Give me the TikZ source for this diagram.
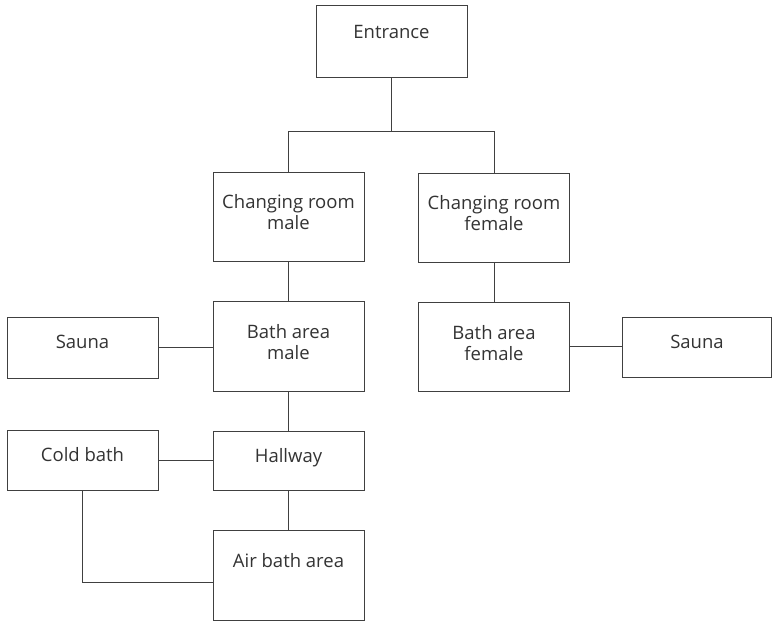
\documentclass[tikz,border=0pt]{standalone}
\usepackage{fontspec}
\setmainfont{Open Sans}
\usetikzlibrary{positioning, calc}

\begin{document}
\begin{tikzpicture}[
    x=1pt, y=-1pt,
    line width=0.9pt,
    room/.style={
        rectangle,
        draw=black!75,
        fill=white,
        minimum width=151pt,
        minimum height=60pt,
        inner sep=0pt
    },
    tall/.style={
        room,
        minimum height=90pt
    },
    roomtext/.style={
        inner sep=0pt,
        align=center,
        text=black!80,
        font=\fontsize{18.5}{21.5}\selectfont
    },
    link/.style={
        draw=black!75,
        line width=0.9pt
    }
]

    \useasboundingbox (0,0) rectangle (772,621);

    % Entrance
    \node[room, minimum height=72pt] (entrance) at (391.5,41) {};
    \node[roomtext, below=20pt of entrance.north] (entrance-txt) {Entrance};

    % Changing rooms
    \node[tall, minimum height=89pt] (chgmale) at (288.5,216.5) {};
    \node[roomtext, below=22pt of chgmale.north] (chgmale-txt) {Changing room\\male};

    \node[tall, minimum height=89pt] (chgfemale) at (494,217.5) {};
    \node[roomtext, below=22pt of chgfemale.north] (chgfemale-txt) {Changing room\\female};

    % Bath areas
    \node[tall] (bathmale) at (288.5,346) {};
    \node[roomtext, below=23pt of bathmale.north] (bathmale-txt) {Bath area\\male};

    \node[tall, minimum height=89pt] (bathfemale) at (494,346.5) {};
    \node[roomtext, below=23pt of bathfemale.north] (bathfemale-txt) {Bath area\\female};

    % Saunas
    \node[room, minimum height=61pt] (saunal) at (82.5,347.5) {};
    \node[roomtext, below=18pt of saunal.north] (saunal-txt) {Sauna};

    \node[room, minimum width=149pt] (saunar) at (697,347) {};
    \node[roomtext, below=18pt of saunar.north] (saunar-txt) {Sauna};

    % Hallway, cold bath, air bath
    \node[room] (coldbath) at (82.5,460) {};
    \node[roomtext, below=17pt of coldbath.north] (coldbath-txt) {Cold bath};

    \node[room, minimum height=59pt] (hallway) at (288.5,460.5) {};
    \node[roomtext, below=17pt of hallway.north] (hallway-txt) {Hallway};

    \node[tall] (airbath) at (288.5,575) {};
    \node[roomtext, below=23pt of airbath.north] (airbath-txt) {Air bath area};

    % Connections
    \coordinate (fork) at ($(entrance.south)+(0,54)$);
    \draw[link] (entrance) -- (fork);
    \draw[link] (chgmale.north) |- (fork) -| (chgfemale.north);

    \draw[link] (chgmale) -- (bathmale);
    \draw[link] (chgfemale) -- (bathfemale);

    \draw[link] (saunal.east) -- (saunal.east -| bathmale.west);
    \draw[link] (bathfemale.east) -- (bathfemale.east -| saunar.west);

    \draw[link] (bathmale) -- (hallway);
    \draw[link] (coldbath.east) -- (coldbath.east -| hallway.west);
    \draw[link] (hallway) -- (airbath);

    % Cold bath to air bath
    \draw[link] (coldbath.south) |- ($(airbath.west)+(0,7)$);

\end{tikzpicture}
\end{document}
